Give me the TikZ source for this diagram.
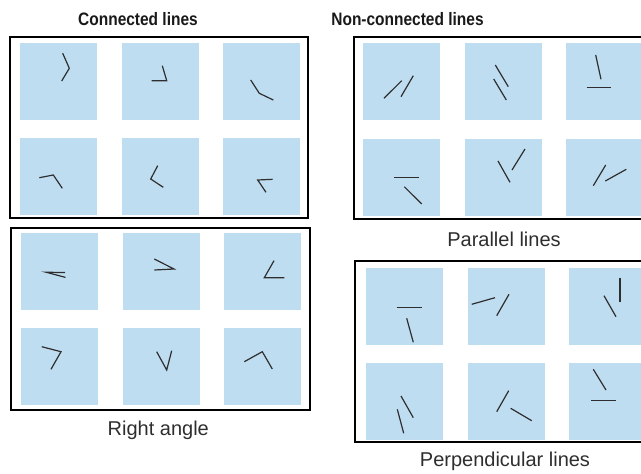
\documentclass[tikz,border=0pt]{standalone}
\usepackage{fontspec}
\setmainfont{Liberation Sans}
\newfontfamily\headfont[FakeStretch=0.86]{Liberation Sans}
\usepackage{tikz}
\usetikzlibrary{positioning}

\definecolor{tileblue}{HTML}{BFDDF1}
\definecolor{inkgray}{HTML}{2E2E2E}

\begin{document}
\begin{tikzpicture}[x=1pt, y=-1pt]
	% Define styles
	\tikzset{
		frame/.style={draw=black, line width=1.9pt},
		tile/.style={rectangle, fill=tileblue, minimum size=77pt, inner sep=0pt, outer sep=0pt},
		stroke/.style={draw=inkgray, line width=1.2pt},
		heading/.style={anchor=base, text=black!90, font=\headfont\fontsize{18}{21}\selectfont\bfseries},
		caption/.style={anchor=base, text=inkgray, font=\fontsize{20}{24}\selectfont}
	}
	\useasboundingbox (0,0) rectangle (641,474);
	\clip (0,0) rectangle (641,474);

	% Headings and captions
	\node[heading] (conntitle) at (138,25.5) {Connected lines};
	\node[heading] (nonconntitle) at (407.5,25.5) {Non-connected lines};
	\node[caption] (rightcap) at (158.3,435.5) {Right angle};
	\node[caption] (parcap) at (504,246.5) {Parallel lines};
	\node[caption] (perpcap) at (505,466) {Perpendicular lines};

	% Frames
	\draw[frame] (10,37) rectangle (308,218);
	\draw[frame] (11,228) rectangle (310,410);
	\draw[frame] (354,37) rectangle (660,219);
	\draw[frame] (355,261) rectangle (660,442);

	% Tiles: connected lines
	\node[tile] (a11) at (58.5,81.5) {};
	\node[tile, right=24.5pt of a11] (a12) {};
	\node[tile, right=24.5pt of a12] (a13) {};
	\node[tile, below=18pt of a11] (a21) {};
	\node[tile, right=24.5pt of a21] (a22) {};
	\node[tile, right=24.5pt of a22] (a23) {};

	% Tiles: right angle
	\node[tile] (b11) at (59.5,271.5) {};
	\node[tile, right=24.5pt of b11] (b12) {};
	\node[tile, right=24.5pt of b12] (b13) {};
	\node[tile, below=18pt of b11] (b21) {};
	\node[tile, right=24.5pt of b21] (b22) {};
	\node[tile, right=24.5pt of b22] (b23) {};

	% Tiles: parallel lines
	\node[tile] (c11) at (401.5,81.5) {};
	\node[tile, right=24.5pt of c11] (c12) {};
	\node[tile, right=24.5pt of c12] (c13) {};
	\node[tile, below=18.5pt of c11] (c21) {};
	\node[tile, right=24.5pt of c21] (c22) {};
	\node[tile, right=24.5pt of c22] (c23) {};

	% Tiles: perpendicular lines
	\node[tile] (d11) at (404.5,306.5) {};
	\node[tile, right=24.5pt of d11] (d12) {};
	\node[tile, right=24.5pt of d12] (d13) {};
	\node[tile, below=18pt of d11] (d21) {};
	\node[tile, right=24.5pt of d21] (d22) {};
	\node[tile, right=24.5pt of d22] (d23) {};

	% Strokes: connected lines
	\draw[stroke] (62.7,53.3) -- (69.3,68.3) -- (61.7,81);
	\draw[stroke] (162.3,65.7) -- (166.7,80.7) -- (151.7,80.7);
	\draw[stroke] (250.7,80) -- (259.3,93.3) -- (273.3,100);
	\draw[stroke] (39.3,177.7) -- (53.3,175) -- (62.3,188.3);
	\draw[stroke] (157.7,165.7) -- (150.7,179) -- (163.3,187.3);
	\draw[stroke] (272.7,179.3) -- (257.7,180) -- (266,192.3);

	% Strokes: right angle
	\draw[stroke] (65,272.6) -- (46,272.2) -- (65.5,277.4);
	\draw[stroke] (154.3,259) -- (174,269) -- (154.3,270);
	\draw[stroke] (274,260.7) -- (264.3,277.7) -- (284.3,277.7);
	\draw[stroke] (41.7,346.7) -- (61,351.7) -- (51,369.3);
	\draw[stroke] (156.7,351.7) -- (166.7,370) -- (171.7,350.7);
	\draw[stroke] (244.3,361.7) -- (262.3,351.7) -- (272.3,369);

	% Strokes: parallel lines
	\draw[stroke] (384,98.3) -- (401.7,80.7);
	\draw[stroke] (401,96.7) -- (413.3,75.7);
	\draw[stroke] (495.3,65) -- (508.3,86.7);
	\draw[stroke] (493.7,79) -- (506.3,100);
	\draw[stroke] (595.7,55) -- (601,79.3);
	\draw[stroke] (586.7,87.3) -- (611,87.3);
	\draw[stroke] (394.3,177.7) -- (419,177.7);
	\draw[stroke] (404.3,186.7) -- (421.7,204);
	\draw[stroke] (498,161) -- (510,182.3);
	\draw[stroke] (512,170) -- (525,149);
	\draw[stroke] (593.3,185.7) -- (605.7,165);
	\draw[stroke] (605.3,181) -- (626.3,169.3);

	% Strokes: perpendicular lines
	\draw[stroke] (396.7,307.3) -- (421.7,307.3);
	\draw[stroke] (406.7,318.3) -- (413.3,342.3);
	\draw[stroke] (471.7,304.3) -- (495,297.7);
	\draw[stroke] (496.7,315.7) -- (509,294.3);
	\draw[stroke] (604,295.7) -- (616,316.7);
	\draw[stroke] (620,278.3) -- (620,302.3);
	\draw[stroke] (401,396) -- (413.3,417.7);
	\draw[stroke] (397.3,409.3) -- (403.7,433.3);
	\draw[stroke] (496.7,411.7) -- (508.7,390.7);
	\draw[stroke] (510.7,408.3) -- (531.7,420.7);
	\draw[stroke] (593.3,369.3) -- (606,390);
	\draw[stroke] (591,400.7) -- (616,400.7);
\end{tikzpicture}
\end{document}
